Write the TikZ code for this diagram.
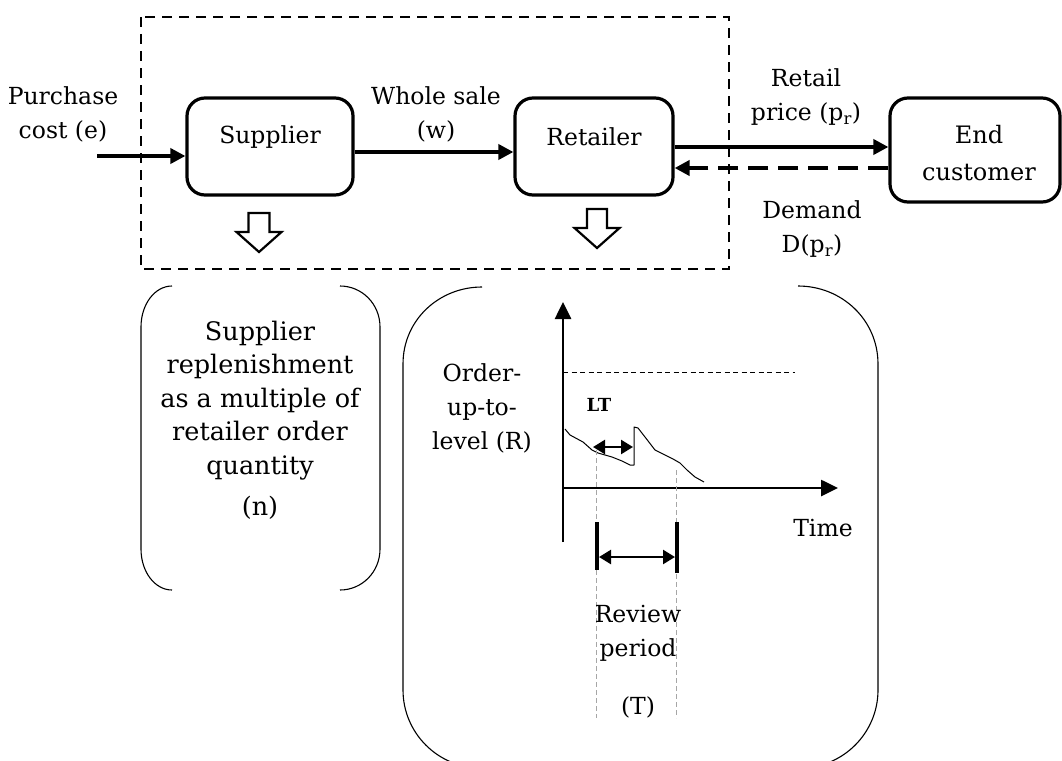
\documentclass[tikz,border=0pt]{standalone}
\usepackage{fontspec}
\setmainfont{DejaVu Serif}
\usetikzlibrary{arrows.meta,calc}
\begin{document}
\begin{tikzpicture}[x=1pt,y=-1pt,
  txt/.style={font=\fontsize{23.5}{34}\selectfont, align=center, inner sep=0pt},
  bigtxt/.style={font=\fontsize{25.5}{33.5}\selectfont, align=center, inner sep=0pt},
  boxnode/.style={draw, line width=3.2pt, rounded corners=18pt},
  conn/.style={line width=3.6pt, -{Triangle[length=15pt,width=15pt]}},
  hollow/.style={draw, line width=2.2pt, fill=white, line join=miter},
  bracket/.style={draw, line width=1.1pt},
  axisline/.style={line width=2.6pt, -{Triangle[length=17pt,width=16pt]}},
  guide/.style={draw=gray!70, line width=1pt, dash pattern=on 5pt off 3pt},
  dbl/.style={line width=2.4pt, {Triangle[length=12pt,width=14pt]}-{Triangle[length=12pt,width=14pt]}}
]
\useasboundingbox (0,0) rectangle (1062,760);

% dashed system boundary
\draw[line width=1.5pt, dash pattern=on 10pt off 7pt] (141,17) rectangle (729,269);

% boxes
\node[boxnode, minimum width=166pt, minimum height=97pt] (sup) at (270,146.5) {};
\node[txt] (suptxt) at (270,137) {Supplier};
\node[boxnode, minimum width=158pt, minimum height=97pt] (ret) at (594,146.5) {};
\node[txt] (rettxt) at (594,137) {Retailer};
\node[boxnode, minimum width=170pt, minimum height=104pt] (end) at (975,150) {};
\node[txt, font=\fontsize{24}{37}\selectfont] (endtxt) at (979,153) {End\\customer};

% labels
\node[txt] (pc) at (63,114) {Purchase\\cost (e)};
\node[txt] (ws) at (436,114) {Whole sale\\(w)};
\node[txt] (rp) at (806,97) {Retail\\price (p\textsubscript{r})};
\node[txt] (dm) at (812,229) {Demand\\D(p\textsubscript{r})};

% connectors
\coordinate (pcs) at (97,156);
\draw[conn] (pcs) -- (pcs -| sup.west);
\draw[conn] ([yshift=-5.5pt]sup.east) -- ([yshift=-5.5pt]ret.west);
\draw[conn] ([yshift=-0.5pt]ret.east) -- ([yshift=3pt]end.west);
\draw[line width=4pt, dash pattern=on 20pt off 10pt, -{Triangle[length=15pt,width=15pt]}]
  ([yshift=-18pt]end.west) -- ([yshift=-21.5pt]ret.east);

% hollow down arrows
\draw[hollow] (248.5,213) -- (269.5,213) -- (269.5,232) -- (281.5,232) -- (259,252)
  -- (236.5,232) -- (248.5,232) -- cycle;
\draw[hollow] (587,209) -- (607,209) -- (607,228) -- (619.5,228) -- (597,248)
  -- (574.5,228) -- (587,228) -- cycle;

% left bracket
\draw[bracket] (172,286) .. controls (155,286) and (141,304) .. (141,327) -- (141,549)
  .. controls (141,572) and (155,590) .. (172,590);
\draw[bracket] (340,286) .. controls (362,286) and (380,304) .. (380,327) -- (380,549)
  .. controls (380,572) and (362,590) .. (340,590);
\node[bigtxt] (suptext) at (260,400.5) {Supplier\\replenishment\\as a multiple of\\retailer order\\quantity};
\node[bigtxt] (ntext) at (260,508) {(n)};

% big bracket
\draw[bracket] (482,287) .. controls (439,287) and (403,320) .. (403,364) -- (403,690)
  .. controls (403,733) and (438,768) .. (481,768);
\draw[bracket] (798,286) .. controls (842,286) and (878,320) .. (878,364) -- (878,690)
  .. controls (878,733) and (843,768) .. (800,768);

% graph
\coordinate (O) at (563,488);
\draw[axisline] (563,542) -- (563,302);
\draw[axisline] (O) -- (838,488);
\draw[line width=1pt, dash pattern=on 5pt off 3.5pt] (563,372) -- (795,372);
\node[txt] (oul) at (482,408) {Order-\\up-to-\\level (R)};
\node[txt] (time) at (823,528) {Time};
\node[font=\bfseries\fontsize{18}{18}\selectfont, inner sep=0pt] (lt) at (599,405) {LT};

\draw[line width=1pt, line join=round]
  (565,429) -- (570,435) -- (583,442) -- (592,450) -- (598,453) -- (612,457) -- (622,461)
  -- (630,465) -- (634,465) -- (634,427) -- (638,428) -- (645,437) -- (655,450) -- (665,455)
  -- (673,459) -- (680,463) -- (687,470) -- (695,477) -- (704,482);

\draw[dbl] (593,447) -- (633,447);

\draw[guide] (596,450) -- (596,718);
\draw[guide] (676,470) -- (676,718);

\draw[line width=4pt] (597,522) -- (597,570);
\draw[line width=4pt] (677,522) -- (677,573);
\draw[dbl] (599,557) -- (675,557);

\node[txt] (rev) at (638,633.5) {Review\\period};
\node[txt] (tt) at (638,707) {(T)};
\end{tikzpicture}
\end{document}
